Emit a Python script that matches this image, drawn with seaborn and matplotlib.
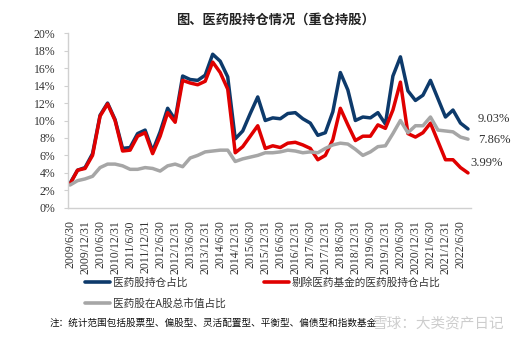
import matplotlib
matplotlib.use("Agg")
import matplotlib.pyplot as plt
import seaborn as sns
import pandas as pd
import numpy as np

# quarterly dates 2009/6/30 .. 2022/9/30
dates = ["2009/6/30", "2009/9/30", "2009/12/31", "2010/3/31", "2010/6/30", "2010/9/30", "2010/12/31",
         "2011/3/31", "2011/6/30", "2011/9/30", "2011/12/31", "2012/3/31", "2012/6/30", "2012/9/30",
         "2012/12/31", "2013/3/31", "2013/6/30", "2013/9/30", "2013/12/31", "2014/3/31", "2014/6/30",
         "2014/9/30", "2014/12/31", "2015/3/31", "2015/6/30", "2015/9/30", "2015/12/31", "2016/3/31",
         "2016/6/30", "2016/9/30", "2016/12/31", "2017/3/31", "2017/6/30", "2017/9/30", "2017/12/31",
         "2018/3/31", "2018/6/30", "2018/9/30", "2018/12/31", "2019/3/31", "2019/6/30", "2019/9/30",
         "2019/12/31", "2020/3/31", "2020/6/30", "2020/9/30", "2020/12/31", "2021/3/31", "2021/6/30",
         "2021/9/30", "2021/12/31", "2022/3/31", "2022/6/30", "2022/9/30"]

pharma_hold = [2.8, 4.3, 4.6, 6.2, 10.6, 12.0, 10.1, 6.8, 6.9, 8.5, 8.9, 6.5, 8.7, 11.4,
               10.1, 15.1, 14.7, 14.6, 15.2, 17.6, 16.8, 15.0, 7.9, 8.8, 10.8, 12.7, 10.0, 10.3,
               10.2, 10.8, 10.9, 10.2, 9.7, 8.3, 8.6, 11.0, 15.5, 13.5, 10.0, 10.4, 10.3, 10.9,
               9.6, 15.1, 17.3, 13.4, 12.3, 12.9, 14.6, 12.5, 10.4, 11.2, 9.7, 9.03]

ex_fund_hold = [2.7, 4.3, 4.5, 6.0, 10.5, 11.9, 10.0, 6.5, 6.6, 8.2, 8.6, 6.2, 8.2, 10.9,
                9.8, 14.6, 14.3, 14.1, 14.5, 16.7, 15.5, 13.6, 6.3, 7.0, 8.2, 9.4, 6.8, 7.1,
                6.9, 7.4, 7.5, 7.2, 6.8, 5.5, 6.0, 7.8, 11.4, 9.5, 7.7, 8.2, 8.2, 9.5,
                9.1, 11.2, 14.4, 8.5, 8.1, 8.6, 9.7, 7.6, 5.5, 5.5, 4.6, 3.99]

market_share = [2.6, 3.1, 3.3, 3.6, 4.6, 5.0, 5.0, 4.8, 4.4, 4.4, 4.6, 4.5, 4.2, 4.8,
                5.0, 4.7, 5.7, 6.0, 6.4, 6.5, 6.6, 6.6, 5.3, 5.6, 5.8, 6.0, 6.3, 6.3,
                6.4, 6.6, 6.5, 6.3, 6.4, 6.3, 6.8, 7.2, 7.4, 7.3, 6.7, 6.0, 6.4, 7.0,
                7.1, 8.5, 10.0, 8.6, 9.4, 9.4, 10.4, 8.9, 8.8, 8.7, 8.1, 7.86]

series_names = ["医药股持仓占比", "剔除医药基金的医药股持仓占比", "医药股在A股总市值占比"]
series_colors = ["#0D3A6B", "#E00000", "#A6A6A6"]
end_labels = ["9.03%", "7.86%", "3.99%"]

sns.set_theme(style="white")
plt.rcParams['font.family'] = ['Noto Sans CJK SC', 'DejaVu Sans']

idx = np.arange(len(dates))
df = pd.DataFrame({"idx": idx, "date": dates,
                   series_names[0]: pharma_hold,
                   series_names[1]: ex_fund_hold,
                   series_names[2]: market_share})
long = df.melt(id_vars=["idx", "date"], var_name="series", value_name="value")

fig = plt.figure(figsize=(5.32, 3.37), dpi=100)
ax = fig.add_axes([68/532, 1-207.7/337, 403/532, (207.7-33.3)/337])

sns.lineplot(data=long, x="idx", y="value", hue="series", hue_order=series_names,
             palette=series_colors, linewidth=2.5, ax=ax, legend=False, sort=False)

ax.set_xlim(-0.27, 53.4)
ax.set_ylim(0, 20)
yt = np.arange(0, 21, 2)
ax.set_yticks(yt)
ax.set_yticklabels([f"{v}%" for v in yt], family="Liberation Serif", fontsize=8.5, color="#333333")
xt = idx[::2]
ax.set_xticks(xt)
ax.set_xticklabels([dates[i] for i in xt], rotation=90, family="Liberation Serif",
                   fontsize=8.5, color="#333333")
ax.set_xlabel("")
ax.set_ylabel("")
ax.grid(False)
for s in ["top", "right"]:
    ax.spines[s].set_visible(False)
for s in ["left", "bottom"]:
    ax.spines[s].set_color("#D0D0D0")
    ax.spines[s].set_linewidth(1.0)
ax.tick_params(axis="y", which="major", left=True, length=3, width=0.8, color="#D0D0D0", pad=6)
ax.tick_params(axis="x", which="major", bottom=False, pad=3)

# end labels
ax.text(54.3, 10.17, end_labels[0], ha="left", va="center", family="Liberation Serif",
        fontsize=9, color="#333333", clip_on=False)
ax.text(54.4, 7.76, end_labels[1], ha="left", va="center", family="Liberation Serif",
        fontsize=9, color="#333333", clip_on=False)
ax.text(53.3, 5.13, end_labels[2], ha="left", va="center", family="Liberation Serif",
        fontsize=9, color="#333333", clip_on=False)

# title
fig.text(275/532, 1-20/337, "图、医药股持仓情况（重仓持股）", ha="center", va="center",
         fontsize=9.5, fontweight="bold", color="#222222")

# legend
from matplotlib.lines import Line2D
handles = [Line2D([0], [0], color=series_colors[0], lw=2.6),
           Line2D([0], [0], color=series_colors[2], lw=2.6),
           Line2D([0], [0], color=series_colors[1], lw=2.6)]
labels = [series_names[0], series_names[2], series_names[1]]
fig.legend(handles, labels, ncol=2, loc="upper left",
           bbox_to_anchor=(85/532, 1-277/337), frameon=False, borderpad=0,
           borderaxespad=0, handlelength=2.3, handletextpad=0.3, columnspacing=3.6,
           labelspacing=0.95, prop={"family": ["Noto Sans CJK SC", "DejaVu Sans"], "size": 7.7},
           labelcolor="#333333")

# note
fig.text(50/532, 1-323/337, "注：统计范围包括股票型、偏股型、灵活配置型、平衡型、偏债型和指数基金",
         ha="left", va="center", fontsize=6.9, color="#111111", fontweight="medium")
# watermark
fig.text(373/532, 1-323/337, "雪球：大类资产日记", ha="left", va="center",
         fontsize=10.5, color="#C8C8C8", alpha=0.9)

fig.savefig("out.png", dpi=100)
